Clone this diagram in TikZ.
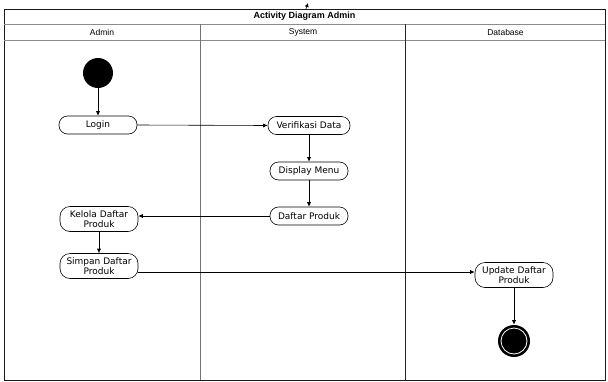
\documentclass[tikz,border=0pt]{standalone}
\usepackage{fontspec}
\setmainfont{DejaVu Sans}
\newfontfamily\headfont{Liberation Sans}
\usetikzlibrary{arrows.meta,positioning}

\tikzset{
  act/.style={draw=black,rounded corners=8.5pt,fill=white,minimum width=78pt,minimum height=18pt,align=center,font=\fontsize{9}{9.5}\selectfont,inner sep=1pt},
  acttwo/.style={act,rounded corners=10pt,minimum height=25pt},
  lanehead/.style={font=\headfont\fontsize{8.5}{9}\selectfont,inner sep=0pt},
  flow/.style={-{Latex[length=4.5pt,width=4pt]},draw=black}
}

\begin{document}
\begin{tikzpicture}[x=1pt,y=-1pt,line width=0.6pt]
\useasboundingbox (0,0) rectangle (608,381);
% swimlane frame
\draw[black!90] (4,9) rectangle (605,380);
\draw[black!45] (4,24) -- (605,24);
\draw[black!45] (4,40) -- (605,40);
\draw[black!55] (200.5,24) -- (200.5,380);
\draw[black!85] (405.5,24) -- (405.5,380);
\node[lanehead,font=\headfont\bfseries\fontsize{9}{9}\selectfont] (title) at (304.5,16.5) {Activity Diagram Admin};
\node[lanehead] (h_admin) at (102,32) {Admin};
\node[lanehead] (h_system) at (303,32) {System};
\node[lanehead] (h_db) at (505.5,32) {Database};
\coordinate (stray_a) at (306,9);
\coordinate (stray_b) at (308,3);
\draw[-{Latex[length=4pt,width=4pt]}] (stray_a)--(stray_b);
% activities
\node[circle,fill=black,minimum size=30pt,inner sep=0pt] (start) at (98,73) {};
\node[act] (login) at (98,125) {Login};
\node[act,minimum width=82pt] (verif) at (309,125.5) {Verifikasi Data};
\node[act] (menu) at (309,171) {Display Menu};
\node[act] (daftar) at (309,216) {Daftar Produk};
\node[acttwo] (kelola) at (99,219) {Kelola Daftar\\Produk};
\node[acttwo] (simpan) at (99,266) {Simpan Daftar\\Produk};
\node[acttwo] (update) at (514,275) {Update Daftar\\Produk};
\node[circle,fill=black,minimum size=32pt,inner sep=0pt] (stop) at (514,341) {};
\draw[white,line width=0.8pt] (stop) circle (13pt);
% flows
\draw[flow] (start.south)--(login.north);
\draw[flow] (login.east)--(verif.west);
\draw[flow] (verif.south)--(menu.north);
\draw[flow] (menu.south)--(daftar.north);
\draw[flow] (daftar.west)--(daftar.west -| kelola.east);
\draw[flow] (kelola.south)--(simpan.north);
\draw[flow] ([yshift=-6pt]simpan.east)--([yshift=3pt]update.west);
\draw[flow] (update.south)--(stop.north);
\end{tikzpicture}
\end{document}
